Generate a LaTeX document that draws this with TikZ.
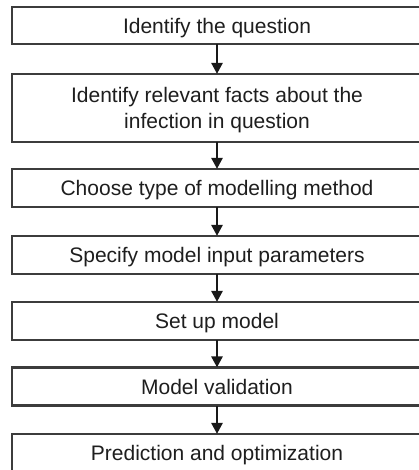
\documentclass[tikz,border=0pt]{standalone}
\usepackage{fontspec}
\setmainfont{Liberation Sans}
\usetikzlibrary{arrows.meta}
\definecolor{boxline}{HTML}{3C3C3C}
\definecolor{txt}{HTML}{1E1E1E}
\tikzset{
  stepbox/.style={draw=boxline, line width=2.2pt, fill=white, minimum width=410pt,
    inner sep=0pt, align=center, text=txt, text depth=0pt,
    font=\fontsize{21}{25.5}\selectfont},
  flow/.style={draw=black!90, line width=2.6pt, -{Triangle[width=11pt,length=11pt]}, shorten <=-1pt, shorten >=-1pt}
}
\begin{document}
\begin{tikzpicture}[x=1pt,y=-1pt]
\useasboundingbox (0,0) rectangle (419,470);
\node[stepbox, minimum height=37pt] (b1) at (217,25.5) {Identify the question};
\node[stepbox, minimum height=68pt] (b2) at (217,108) {Identify relevant facts about the\\infection in question};
\node[stepbox, minimum height=38pt] (b3) at (217,188) {Choose type of modelling method};
\node[stepbox, minimum height=38pt] (b4) at (217,255) {Specify model input parameters};
\node[stepbox, minimum height=38pt] (b5) at (217,321) {Set up model};
\node[stepbox, minimum height=38pt] (b6) at (217,386.5) {Model validation};
\node[stepbox, minimum height=38pt] (b7) at (217,453) {Prediction and optimization};
\draw[flow] (b1.south) -- (b2.north);
\draw[flow] (b2.south) -- (b3.north);
\draw[flow] (b3.south) -- (b4.north);
\draw[flow] (b4.south) -- (b5.north);
\draw[flow] (b5.south) -- (b6.north);
\draw[flow] (b6.south) -- (b7.north);
\end{tikzpicture}
\end{document}
